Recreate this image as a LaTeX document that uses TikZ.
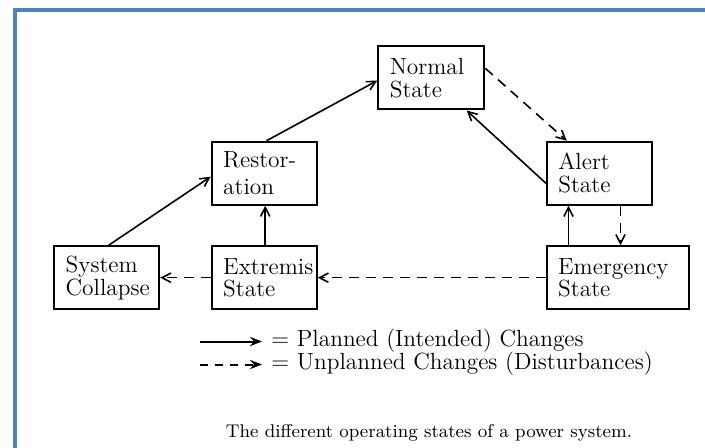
\documentclass[tikz,border=0pt]{standalone}
\usetikzlibrary{arrows.meta}
\definecolor{frameblue}{RGB}{79,129,189}
\newcommand\labelfont{\fontsize{11.7}{11.4}\selectfont}
\newcommand\capfont{\fontsize{9.2}{11}\selectfont}
\tikzset{
  statebox/.style={draw, line width=1pt, align=left, inner xsep=5.75pt, inner ysep=0pt,
    minimum height=31.5pt, text width=41pt, font=\labelfont},
  plan/.style={line width=0.8pt, -{Straight Barb[length=4.5pt,width=4.6pt]}},
  unplan/.style={plan, dash pattern=on 5pt off 3.5pt},
  legplan/.style={line width=1pt, -{Stealth[length=6pt,width=4.6pt,inset=2pt]}},
  legunplan/.style={legplan, dash pattern=on 4pt off 3.5pt},
  legtext/.style={anchor=base west, inner sep=0pt, font=\labelfont},
}
\begin{document}
\begin{tikzpicture}[x=0.5pt,y=-0.5pt]
\useasboundingbox (0,0) rectangle (705,448);
% frame
\draw[frameblue, line width=1.6pt] (15,448) -- (15,10) -- (705,10);

% states
\node[statebox, text width=41.5pt] (normal) at (431.3,78) {Normal\\State};
\node[statebox] (rest) at (264.2,173.2) {Restor-\\[2pt]ation};
\node[statebox] (alert) at (599.3,173.2) {Alert\\State};
\node[statebox] (collapse) at (106.7,277.7) {System\\Collapse};
\node[statebox] (extremis) at (264.2,277.7) {Extremis\\State};
\node[statebox, text width=59.65pt] (emerg) at (617.8,277.7) {Emergency\\State};

% planned changes
\draw[plan] ([xshift=1pt]collapse.north) -- ([yshift=-1.75pt]rest.west);
\draw[plan] ([xshift=1.2pt]rest.north) -- ([yshift=-1.3pt]normal.west);
\draw[plan] ([yshift=-5pt]alert.west) -- ([xshift=17.7pt]normal.south);
\draw[plan] ([xshift=0.5pt]extremis.north) -- ([xshift=0.5pt]rest.south);
\draw[plan] ([xshift=-15.4pt]alert.south |- emerg.north) -- ([xshift=-15.4pt]alert.south);

% unplanned changes
\draw[unplan] ([yshift=4.85pt]normal.east) -- ([xshift=-16.3pt]alert.north);
\draw[unplan] ([xshift=10.6pt]alert.south) -- ([xshift=10.6pt]alert.south |- emerg.north);
\draw[unplan] (emerg.west) -- (extremis.east);
\draw[unplan] (extremis.west) -- (collapse.east);

% legend
\coordinate (lpa) at (200,341.5);
\coordinate (lpb) at (262,341.5);
\coordinate (lua) at (200,364.5);
\coordinate (lub) at (262,364.5);
\draw[legplan] (lpa) -- (lpb);
\draw[legunplan] (lua) -- (lub);
\node[legtext] (lptext) at (271,346.7) {= Planned (Intended) Changes};
\node[legtext] (lutext) at (271,369.6) {= Unplanned Changes (Disturbances)};

% caption
\node[anchor=base, inner sep=0pt, font=\capfont] (caption) at (429,437)
  {The different operating states of a power system.};
\end{tikzpicture}
\end{document}
